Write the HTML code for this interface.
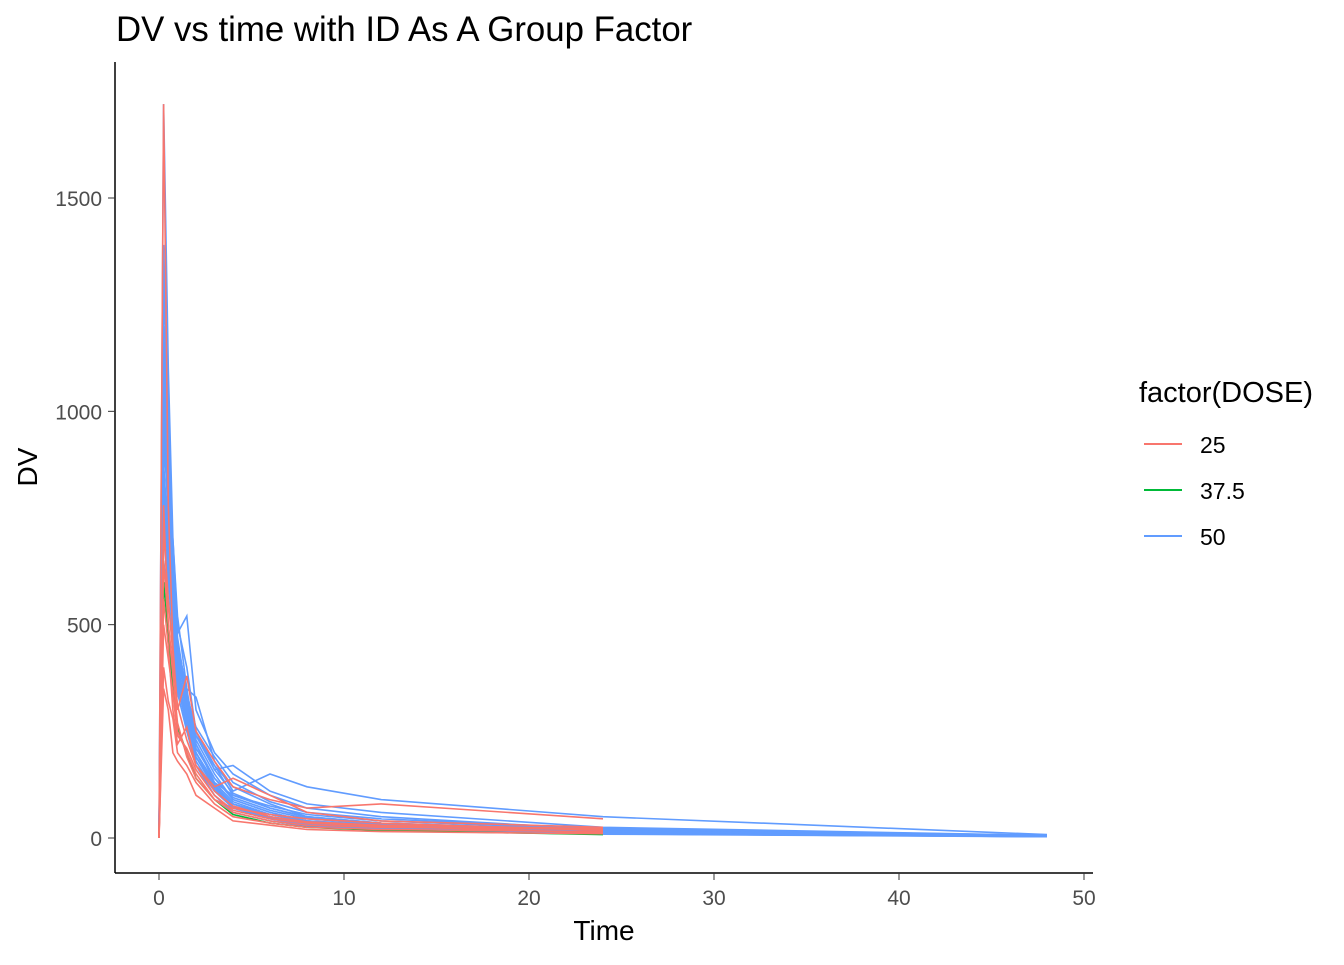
<!DOCTYPE html>
<html><head><meta charset="utf-8"><style>
body{margin:0;background:#fff;font-family:"Liberation Sans",sans-serif}
svg text{font-family:"Liberation Sans",sans-serif}
</style></head><body>
<svg width="1344" height="960">
<text x="116" y="41" font-size="34.8" fill="#000">DV vs time with ID As A Group Factor</text>
<g id="plot"></g>
<line x1="115" y1="62" x2="115" y2="873" stroke="#000" stroke-width="1.5"/>
<line x1="115" y1="873" x2="1093" y2="873" stroke="#000" stroke-width="1.5"/>
<g id="xt"></g>
<g id="yt"></g>
<text x="604" y="940" font-size="28" text-anchor="middle">Time</text>
<text transform="translate(37,467) rotate(-90)" font-size="28" text-anchor="middle">DV</text>
<g>
<text x="1139" y="402" font-size="29">factor(DOSE)</text>
<g><line x1="1144" y1="444" x2="1182" y2="444" stroke="#F8766D" stroke-width="2"/><text x="1200" y="453" font-size="23">25</text></g>
<g><line x1="1144" y1="490" x2="1182" y2="490" stroke="#00BA38" stroke-width="2"/><text x="1200" y="499" font-size="23">37.5</text></g>
<g><line x1="1144" y1="536" x2="1182" y2="536" stroke="#619CFF" stroke-width="2"/><text x="1200" y="545" font-size="23">50</text></g>
</g>
</svg>
<script>
const times=[0,0.25,0.5,0.75,1,1.5,2,3,4,6,8,12,24,48];
const xTicks=[0,10,20,30,40,50];
const yTicks=[0,500,1000,1500];
const dose50=[
[0,1720,1100,700,520,350,220,140,90,60,40,25,12,4],
[0,1390,1000,650,480,520,300,200,150,100,70,50,20,5],
[0,1200,900,640,450,350,330,180,110,150,120,90,50,8],
[0,1000,800,700,500,400,250,170,100,70,50,35,18,6],
[0,880,700,500,400,300,200,120,80,50,30,20,10,3],
[0,800,650,560,420,320,230,150,90,60,40,30,15,4],
[0,720,610,500,380,280,180,110,70,45,30,20,10,3],
[0,1100,850,600,440,330,240,160,170,110,80,60,25,6],
[0,950,760,540,360,260,190,120,75,50,35,25,12,4],
[0,650,560,450,340,250,170,100,60,40,28,18,9,3],
[0,770,600,480,350,280,200,130,85,55,40,30,16,5],
[0,1050,720,520,400,300,210,140,95,65,45,32,14,5],
[0,1300,950,680,470,330,260,190,130,85,60,45,22,6],
[0,900,820,610,430,310,220,130,100,75,55,40,20,5],
[0,1150,780,560,410,290,200,125,80,55,38,26,13,4],
[0,700,640,520,390,300,240,170,120,80,50,35,17,5],
[0,980,880,660,460,340,250,160,105,70,48,34,16,5],
[0,840,690,530,370,270,190,115,72,48,32,22,11,3]];
const dose37=[[0,600,480,350,260,200,140,90,55,35,25,18,8,null]];
const dose25=[
[0,1720,780,450,300,380,250,180,120,90,70,80,45,null],
[0,780,500,400,250,200,150,90,60,40,30,25,20,null],
[0,400,320,280,200,170,130,80,50,35,25,20,15,null],
[0,560,450,300,220,260,170,120,140,100,60,40,25,null],
[0,350,300,200,180,150,100,70,40,30,20,15,10,null],
[0,650,500,380,270,190,140,90,70,55,45,35,18,null],
[0,500,420,340,240,210,160,100,65,45,35,28,12,null],
[0,720,560,430,310,230,170,110,75,50,38,30,22,null]];
const xs=t=>159+t*18.5, ys=v=>838-v*0.42667;
const NS='http://www.w3.org/2000/svg';
const plot=document.getElementById('plot');
function draw(set,col,name){set.forEach((s,i)=>{let d='';s.forEach((v,j)=>{if(v==null)return;d+=(d?'L':'M')+xs(times[j]).toFixed(1)+','+ys(v).toFixed(1);});
const p=document.createElementNS(NS,'path');p.setAttribute('d',d);p.setAttribute('fill','none');p.setAttribute('stroke',col);p.setAttribute('stroke-width','1.6');


plot.appendChild(p);});}
draw(dose50,'#619CFF','dose50');draw(dose37,'#00BA38','dose37');draw(dose25,'#F8766D','dose25');
const xt=document.getElementById('xt'),yt=document.getElementById('yt');
xTicks.forEach(t=>{const l=document.createElementNS(NS,'line');l.setAttribute('x1',xs(t));l.setAttribute('x2',xs(t));l.setAttribute('y1',873);l.setAttribute('y2',880);l.setAttribute('stroke','#333');xt.appendChild(l);
const tx=document.createElementNS(NS,'text');tx.setAttribute('x',xs(t));tx.setAttribute('y',905);tx.setAttribute('text-anchor','middle');tx.setAttribute('font-size','21');tx.setAttribute('fill','#4d4d4d');tx.textContent=t;


xt.appendChild(tx);});
yTicks.forEach(t=>{const l=document.createElementNS(NS,'line');l.setAttribute('x1',108);l.setAttribute('x2',115);l.setAttribute('y1',ys(t));l.setAttribute('y2',ys(t));l.setAttribute('stroke','#333');yt.appendChild(l);
const tx=document.createElementNS(NS,'text');tx.setAttribute('x',102);tx.setAttribute('y',ys(t)+8);tx.setAttribute('text-anchor','end');tx.setAttribute('font-size','21');tx.setAttribute('fill','#4d4d4d');tx.textContent=t;


yt.appendChild(tx);});
</script>
</body></html>
